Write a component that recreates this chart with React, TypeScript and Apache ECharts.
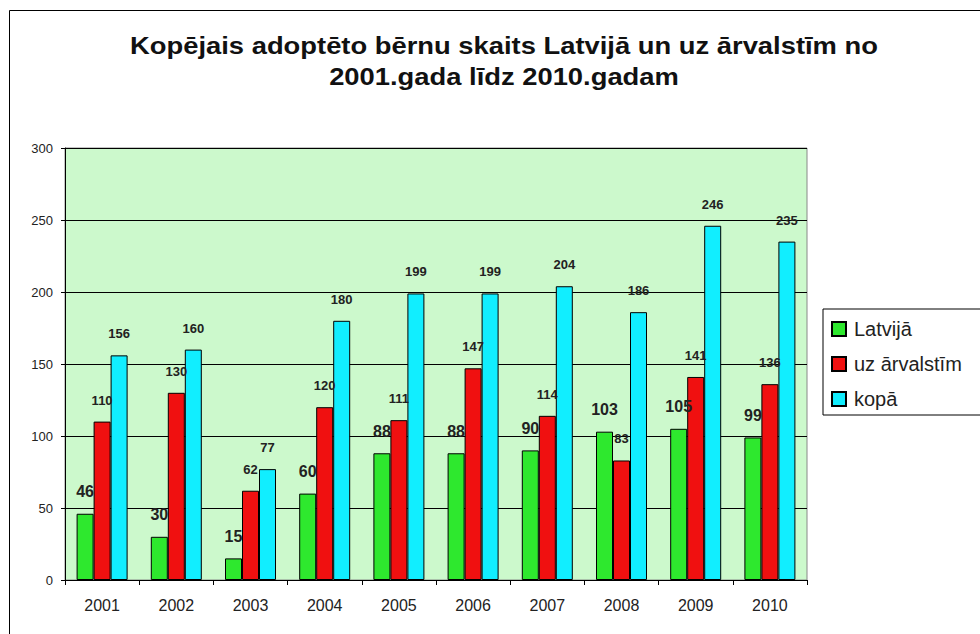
import React, { useEffect, useRef } from "react";
import * as echarts from "echarts";

const years = ["2001", "2002", "2003", "2004", "2005", "2006", "2007", "2008", "2009", "2010"];
const latvija = [46, 30, 15, 60, 88, 88, 90, 103, 105, 99];
const arvalstim = [110, 130, 62, 120, 111, 147, 114, 83, 141, 136];
const kopa = [156, 160, 77, 180, 199, 199, 204, 186, 246, 235];
const seriesNames = ["Latvijā", "uz ārvalstīm", "kopā"];
const titleLines = [
  "Kopējais adoptēto bērnu skaits Latvijā un uz ārvalstīm no",
  "2001.gada līdz 2010.gadam",
];

export default function App() {
  const ref = useRef<HTMLDivElement>(null);
  useEffect(() => {
    const chart = echarts.init(ref.current!, null, { renderer: "svg" });
    const font = "'Liberation Sans', Arial, sans-serif";
    const mkLabel = (fontSize: number, distance: number) => ({
      show: true,
      position: "top" as const,
      distance,
      fontFamily: font,
      fontSize,
      fontWeight: "bold" as const,
      color: "#222",
    });
    const mk = (name: string, data: number[], color: string, label: any) => ({
      name,
      type: "bar" as const,
      data,
      barWidth: 17,
      barGap: "0%",
      itemStyle: { color, borderColor: "#000", borderWidth: 1 },
      label,
    });
    chart.setOption({
      animation: false,
      backgroundColor: "#fff",
      textStyle: { fontFamily: font },
      graphic: [
        {
          type: "rect",
          shape: { x: 9.5, y: 10.5, width: 1000, height: 700 },
          style: { fill: "none", stroke: "#000", lineWidth: 1 },
          z: -10,
        },
        ...titleLines.map((t, i) => ({
          type: "text",
          x: 504,
          y: 46 + i * 31,
          scaleX: 1.19,
          style: {
            text: t,
            x: 0,
            y: 0,
            textAlign: "center",
            textVerticalAlign: "middle",
            fontFamily: font,
            fontSize: 23,
            fontWeight: "bold",
            fill: "#111",
          },
        })),
      ],
      legend: {
        orient: "vertical",
        left: 823,
        top: 309,
        padding: [10, 40, 6, 8],
        itemWidth: 14,
        itemHeight: 14,
        itemGap: 15,
        icon: "rect",
        borderColor: "#000",
        borderWidth: 1,
        data: seriesNames,
        textStyle: { fontFamily: font, fontSize: 20, color: "#222", padding: [0, 0, 0, 3] },
      },
      grid: {
        left: 65,
        right: 173,
        top: 148,
        bottom: 54,
        show: true,
        backgroundColor: "#ccf9cc",
        borderColor: "#888",
        borderWidth: 1,
        containLabel: false,
      },
      xAxis: {
        type: "category",
        data: years,
        axisLine: { lineStyle: { color: "#000", width: 1 } },
        axisTick: { show: true, length: 5, lineStyle: { color: "#000" } },
        axisLabel: { fontFamily: font, fontSize: 16, color: "#222", margin: 17 },
      },
      yAxis: {
        type: "value",
        min: 0,
        max: 300,
        interval: 50,
        axisLine: { show: true, lineStyle: { color: "#000", width: 1 } },
        axisTick: { show: true, length: 4, lineStyle: { color: "#000" } },
        axisLabel: { fontFamily: font, fontSize: 13, color: "#222", margin: 12 },
        splitLine: { lineStyle: { color: "#000", width: 1 } },
      },
      series: [
        mk(seriesNames[0], latvija, "#2ee82e", mkLabel(16, 14)),
        mk(seriesNames[1], arvalstim, "#f01010", mkLabel(13, 15)),
        mk(seriesNames[2], kopa, "#11eeff", mkLabel(13, 15)),
      ],
    });
    return () => chart.dispose();
  }, []);
  return (
    <div
      ref={ref}
      style={{ position: "absolute", left: 0, top: 0, width: 980, height: 634 }}
    />
  );
}
